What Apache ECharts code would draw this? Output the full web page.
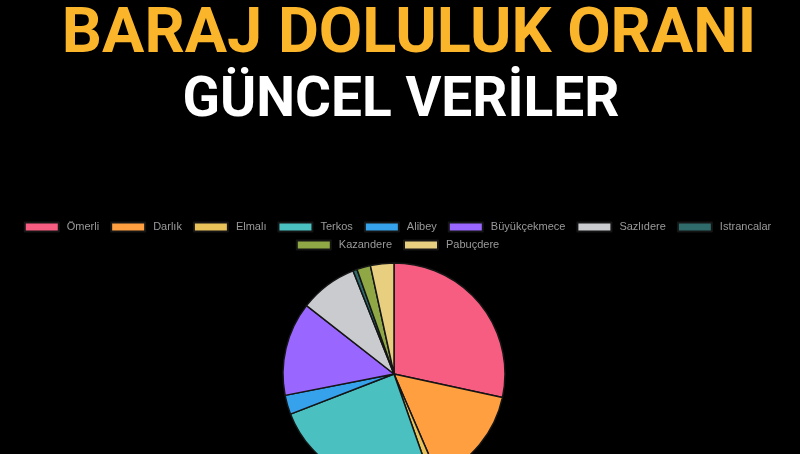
<!DOCTYPE html>
<html>
<head>
<meta charset="utf-8">
<script src="https://cdn.jsdelivr.net/npm/echarts@6/dist/echarts.min.js"></script>
<style>
  html, body { margin: 0; padding: 0; background: #000; }
  #chart { width: 800px; height: 454px; }
</style>
</head>
<body>
<div id="chart"></div>
<script>
const baraj = ["Ömerli", "Darlık", "Elmalı", "Terkos", "Alibey", "Büyükçekmece", "Sazlıdere", "Istrancalar", "Kazandere", "Pabuçdere"];
const oran = [28.3, 15.1, 1.1, 24.4, 2.8, 13.6, 8.4, 0.6, 2.0, 3.4];
const renk = ["#f65d80", "#ff9f40", "#e9c25a", "#4bc0c0", "#36a2eb", "#9966ff", "#c9cbcf", "#2f6b6b", "#8fa845", "#e8cf80"];

const legendStyle = {
  left: "center", icon: "rect", itemWidth: 34, itemHeight: 9, itemGap: 6,
  textStyle: { color: "#9a9a9a", fontSize: 11, lineHeight: 12, fontFamily: "Liberation Sans", padding: [0, 5, 0, 3] }
};

const chart = echarts.init(document.getElementById("chart"));
chart.setOption({
  backgroundColor: "#000",
  title: [
    { text: "BARAJ DOLULUK ORANI", left: 404, textAlign: "center", top: 0,
      textStyle: { color: "#fbb52b", fontSize: 63, fontWeight: "bold", fontFamily: "Roboto" } },
    { text: "GÜNCEL VERİLER", left: 396, textAlign: "center", top: 70,
      textStyle: { color: "#fff", fontSize: 55, fontWeight: "bold", fontFamily: "Roboto" } }
  ],
  color: renk,
  legend: [
    Object.assign({ top: 216, data: baraj.slice(0, 8) }, legendStyle),
    Object.assign({ top: 234, data: baraj.slice(8) }, legendStyle)
  ],
  series: [{
    type: "pie",
    center: [394, 374],
    radius: 111,
    startAngle: 90,
    label: { show: false },
    labelLine: { show: false },
    itemStyle: { borderColor: "#151515", borderWidth: 1.5 },
    data: baraj.map((b, i) => ({ name: b, value: oran[i] }))
  }]
});
</script>
</body>
</html>
